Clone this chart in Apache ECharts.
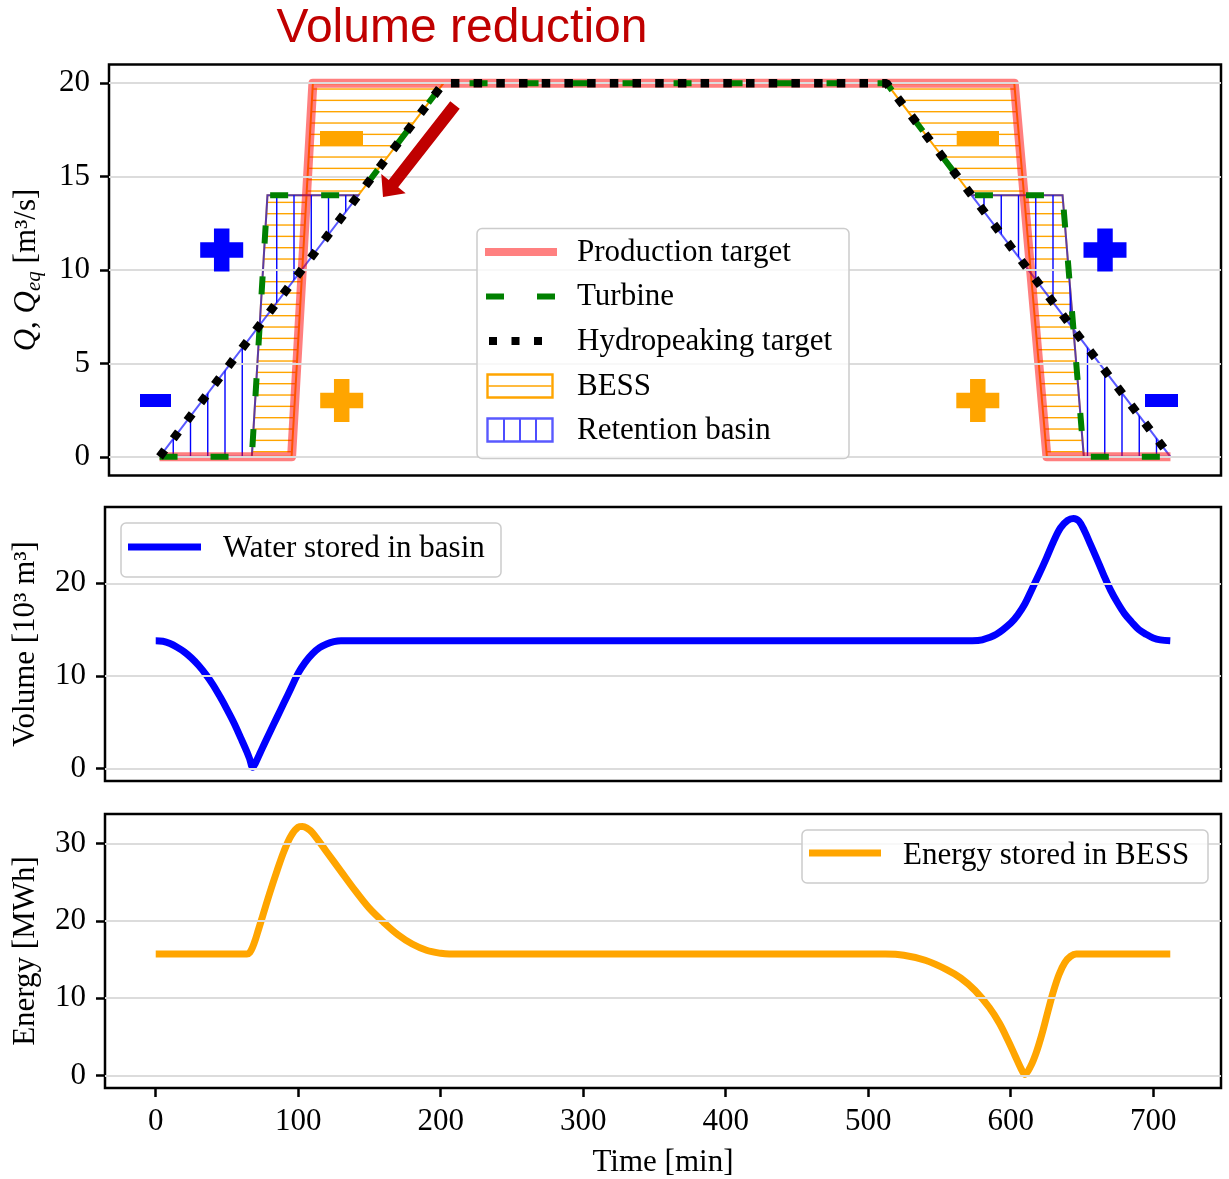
<!DOCTYPE html>
<html>
<head>
<meta charset="utf-8">
<script src="https://cdn.jsdelivr.net/npm/echarts@6/dist/echarts.min.js"></script>
<style>
html, body { margin: 0; padding: 0; background: #fff; }
#main { width: 1229px; height: 1179px; }
</style>
</head>
<body>
<div id="main"></div>
<script>
// ---- data ----
const tTicks = [0, 100, 200, 300, 400, 500, 600, 700];
const qTicks = [0, 5, 10, 15, 20];
const vTicks = [0, 10, 20];
const eTicks = [0, 10, 20, 30];

// top panel: discharge Q [m3/s] vs time [min]
const prodT = [0, 93, 108, 602, 625, 712];
const prodQ = [0, 0, 20, 20, 0, 0];
const turbT = [0, 65, 76, 140, 200, 512, 572, 636, 651, 712];
const turbQ = [0, 0, 14, 14, 20, 20, 14, 14, 0, 0];
const hydroT = [0, 200, 512, 712];
const hydroQ = [0, 20, 20, 0];

// filled regions (corners of the curves above)
const bessLeft = [[65, 0], [93, 0], [108, 20], [200, 20], [140, 14], [76, 14]];
const bessRight = [[512, 20], [602, 20], [625, 0], [651, 0], [636, 14], [572, 14]];
const basinLeft = [[0, 0], [140, 14], [76, 14], [65, 0]];
const basinRight = [[572, 14], [712, 0], [651, 0], [636, 14]];

// middle panel: water stored in basin [10^3 m3]
const volT = [0,5,10,15,20,25,30,35,40,45,50,55,60,64,66,68,70,73,76,80,85,90,95,100,105,110,115,120,125,130,140,
  573,580,590,600,605,610,615,620,625,630,635,640,644,648,652,656,660,665,670,675,680,685,690,695,700,705,712];
const volV = [13.8,13.75,13.5,13.1,12.6,11.95,11.15,10.2,9.1,7.8,6.4,4.9,3.2,1.8,1.0,0.15,0.6,1.6,2.6,3.9,5.5,7.1,8.7,10.3,11.5,12.4,13.05,13.45,13.7,13.8,13.8,
  13.8,13.9,14.5,15.7,16.6,17.8,19.4,21.0,22.7,24.5,26.0,26.8,27.0,26.7,25.6,24.2,22.8,21.0,19.3,17.9,16.7,15.8,15.0,14.5,14.1,13.9,13.8];

// bottom panel: energy stored in BESS [MWh]
const enT = [0,64,66,68,70,72,75,80,85,90,95,100,103,106,110,120,130,140,150,160,170,180,190,200,206,
  512,525,540,555,565,575,585,592,598,603,607,610,614,618,622,626,630,634,638,642,646,712];
const enE = [15.7,15.7,15.9,16.6,17.6,18.8,20.6,23.6,26.4,29.0,31.0,32.1,32.2,32.0,31.4,28.9,26.4,23.9,21.6,19.8,18.2,17.0,16.2,15.8,15.7,
  15.7,15.55,14.9,13.7,12.6,11.0,8.8,6.8,4.6,2.6,1.0,0.15,1.2,3.0,5.4,8.2,10.9,13.1,14.6,15.4,15.7,15.7];

const SERIF = '"Liberation Serif", "Times New Roman", serif';
const SANS = '"Liberation Sans", Arial, sans-serif';
const ORANGE = '#ffa500';
const BLUE = '#0000ff';
const DARKRED = '#c00000';
const BASIN_EDGE = 'rgba(0,0,255,0.65)';

function zip(a, b) { return a.map((v, i) => [v, b[i]]); }

// hatch patterns
function hatchH() {
  const c = document.createElement('canvas');
  c.width = 8; c.height = 34;
  const g = c.getContext('2d');
  g.strokeStyle = ORANGE; g.lineWidth = 1.4;
  [9.7, 21.03, 32.37].forEach(y => { g.beginPath(); g.moveTo(0, y); g.lineTo(8, y); g.stroke(); });
  return c;
}
function hatchV() {
  const c = document.createElement('canvas');
  c.width = 69; c.height = 8;
  const g = c.getContext('2d');
  g.strokeStyle = BLUE; g.lineWidth = 1.4;
  [0.75, 18, 35.25, 52.5].forEach(x => { g.beginPath(); g.moveTo(x, 0); g.lineTo(x, 8); g.stroke(); });
  return c;
}
const patH = { image: hatchH(), repeat: 'repeat' };
const patV = { image: hatchV(), repeat: 'repeat' };

function polySeries(pts, fill, stroke, z) {
  return {
    type: 'custom', xAxisIndex: 0, yAxisIndex: 0, z: z, silent: true,
    data: pts, encode: { x: 0, y: 1 },
    renderItem: function (params, api) {
      if (params.dataIndex !== 0) return null;
      return {
        type: 'polygon',
        shape: { points: pts.map(p => api.coord(p)) },
        style: { fill: fill, stroke: stroke, lineWidth: 2 }
      };
    }
  };
}

function gridSeries(xi, yi, ticks) {
  return {
    type: 'line', xAxisIndex: xi, yAxisIndex: yi, z: 0, silent: true,
    data: [[0, ticks[0]]], symbol: 'none', lineStyle: { opacity: 0 },
    markLine: {
      silent: true, symbol: ['none', 'none'], label: { show: false },
      lineStyle: { color: '#dcdcdc', width: 1.8, type: 'solid' },
      emphasis: { disabled: true },
      data: ticks.map(v => ({ yAxis: v }))
    }
  };
}

const labelFont = { fontFamily: SERIF, fontSize: 31, color: '#000' };
const tickStyle = { color: '#000', width: 2.5 };

function xAxisDef(idx, showLabels) {
  const ax = {
    type: 'value', gridIndex: idx, min: -35.6, max: 747.6,
    axisLine: { show: false, onZero: false },
    splitLine: { show: false },
    axisTick: { show: false },
    axisLabel: { show: false }
  };
  if (showLabels) {
    ax.axisTick = { show: true, customValues: tTicks, length: 9, lineStyle: tickStyle };
    ax.axisLabel = Object.assign({ show: true, customValues: tTicks, margin: 18 }, labelFont);
    ax.name = 'Time [min]';
    ax.nameLocation = 'middle';
    ax.nameGap = 59;
    ax.nameTextStyle = labelFont;
  }
  return ax;
}
function yAxisDef(idx, min, max, ticks, name, rich) {
  return {
    type: 'value', gridIndex: idx, min: min, max: max,
    axisLine: { show: false, onZero: false },
    splitLine: { show: false },
    axisTick: { show: true, customValues: ticks, length: 9, lineStyle: tickStyle },
    axisLabel: Object.assign({ customValues: ticks, margin: 19 }, labelFont),
    name: name, nameLocation: 'middle', nameGap: 64,
    nameTextStyle: Object.assign({ rich: rich || {} }, labelFont)
  };
}

const qRich = {
  i: { fontFamily: SERIF, fontSize: 31, fontStyle: 'italic', verticalAlign: 'top', lineHeight: 34 },
  n: { fontFamily: SERIF, fontSize: 31, verticalAlign: 'top', lineHeight: 34 },
  s: { fontFamily: SERIF, fontSize: 21, fontStyle: 'italic', verticalAlign: 'bottom', lineHeight: 21, padding: [16, 0, 0, 0] }
};

const gridBox = { show: true, borderColor: '#000', borderWidth: 2.5, backgroundColor: 'rgba(0,0,0,0)' };

const option = {
  animation: false,
  backgroundColor: '#fff',
  grid: [
    Object.assign({ left: 105, top: 64.5, width: 1116, height: 411 }, gridBox),
    Object.assign({ left: 105, top: 507, width: 1116, height: 274 }, gridBox),
    Object.assign({ left: 105, top: 814, width: 1116, height: 274 }, gridBox)
  ],
  xAxis: [xAxisDef(0, false), xAxisDef(1, false), xAxisDef(2, true)],
  yAxis: [
    yAxisDef(0, -1, 21, qTicks, '{i|Q}{n|, }{i|Q}{s|eq}{n| [m³/s]}', qRich),
    yAxisDef(1, -1.345, 28.245, vTicks, 'Volume [10³ m³]'),
    yAxisDef(2, -1.61, 33.81, eTicks, 'Energy [MWh]')
  ],
  series: [
    gridSeries(0, 0, qTicks),
    gridSeries(1, 1, vTicks),
    gridSeries(2, 2, eTicks),
    polySeries(bessLeft, patH, ORANGE, 2),
    polySeries(bessRight, patH, ORANGE, 2),
    polySeries(basinLeft, patV, BASIN_EDGE, 3),
    polySeries(basinRight, patV, BASIN_EDGE, 3),
    {
      name: 'Production target', type: 'line', xAxisIndex: 0, yAxisIndex: 0, z: 4,
      data: zip(prodT, prodQ), symbol: 'none', clip: false, silent: true,
      lineStyle: { color: 'rgba(255,0,0,0.5)', width: 9, join: 'round' }
    },
    {
      name: 'Turbine', type: 'line', xAxisIndex: 0, yAxisIndex: 0, z: 5,
      data: zip(turbT, turbQ), symbol: 'none', clip: false, silent: true,
      lineStyle: { color: '#008000', width: 6, type: [18, 33], cap: 'butt' }
    },
    {
      name: 'Hydropeaking target', type: 'line', xAxisIndex: 0, yAxisIndex: 0, z: 6,
      data: zip(hydroT, hydroQ), symbol: 'none', clip: false, silent: true,
      lineStyle: { color: '#000', width: 8.5, type: [8.5, 14.2], cap: 'butt' }
    },
    {
      name: 'Water stored in basin', type: 'line', xAxisIndex: 1, yAxisIndex: 1, z: 4,
      data: zip(volT, volV), symbol: 'none', smooth: 0.35, silent: true,
      lineStyle: { color: BLUE, width: 7, join: 'round' }
    },
    {
      name: 'Energy stored in BESS', type: 'line', xAxisIndex: 2, yAxisIndex: 2, z: 4,
      data: zip(enT, enE), symbol: 'none', smooth: 0.35, silent: true,
      lineStyle: { color: ORANGE, width: 7, join: 'round' }
    }
  ]
};

// ---- annotations ----
const g = [];
function rect(x1, y1, x2, y2, fill) {
  g.push({ type: 'rect', z: 20, silent: true, shape: { x: x1, y: y1, width: x2 - x1, height: y2 - y1 }, style: { fill: fill } });
}
function plus(cx, cy, fill) {
  rect(cx - 21.5, cy - 7.75, cx + 21.5, cy + 7.75, fill);
  rect(cx - 7.75, cy - 21.5, cx + 7.75, cy + 21.5, fill);
}
plus(221.7, 250, BLUE);
plus(1105, 250, BLUE);
plus(341.7, 400.5, ORANGE);
plus(977.8, 400.5, ORANGE);
rect(140, 394, 171, 407, BLUE);
rect(1145, 394, 1178, 407, BLUE);
rect(320, 131, 363, 146, ORANGE);
rect(956.7, 131, 999, 146, ORANGE);

// title
g.push({ type: 'text', z: 20, silent: true, x: 462, y: 29,
  style: { text: 'Volume reduction', fill: DARKRED, font: '48px ' + SANS, textAlign: 'center', textVerticalAlign: 'middle' } });

// arrow
(function () {
  const tail = [455, 105], tip = [383, 197];
  const dx = tip[0] - tail[0], dy = tip[1] - tail[1];
  const L = Math.hypot(dx, dy), d = [dx / L, dy / L], n = [d[1] * -1, d[0]];
  const hw = 6, hh = 15.5, hl = 17;
  const b = [tip[0] - hl * d[0], tip[1] - hl * d[1]];
  const p = (o, k) => [o[0] + k * n[0], o[1] + k * n[1]];
  g.push({ type: 'polygon', z: 20, silent: true,
    shape: { points: [p(tail, hw), p(b, hw), p(b, hh), tip, p(b, -hh), p(b, -hw), p(tail, -hw)] },
    style: { fill: DARKRED } });
})();

// legend boxes
function legendBox(x, y, w, h) {
  g.push({ type: 'rect', z: 30, silent: true, shape: { x: x, y: y, width: w, height: h, r: 5 },
    style: { fill: 'rgba(255,255,255,0.8)', stroke: '#cccccc', lineWidth: 1.5 } });
}
function legendText(x, y, s) {
  g.push({ type: 'text', z: 31, silent: true, x: x, y: y,
    style: { text: s, fill: '#000', font: '31px ' + SERIF, textVerticalAlign: 'middle' } });
}
function legendLine(x1, x2, y, color, width, dash) {
  g.push({ type: 'line', z: 31, silent: true, shape: { x1: x1, y1: y, x2: x2, y2: y },
    style: { stroke: color, lineWidth: width, lineDash: dash || null, lineCap: 'butt' } });
}

legendBox(477, 228.5, 372, 230);
legendLine(485, 557, 252, '#ff8080', 8);
legendText(577, 253, 'Production target');
legendLine(486, 556, 296.5, '#008000', 6, [18, 33]);
legendText(577, 297, 'Turbine');
legendLine(489, 543, 341, '#000', 8, [8, 14.5]);
legendText(577, 341.5, 'Hydropeaking target');
g.push({ type: 'rect', z: 31, silent: true, shape: { x: 487.5, y: 374.5, width: 65, height: 23 },
  style: { fill: '#fff', stroke: ORANGE, lineWidth: 2.4 } });
legendLine(488.5, 551.5, 386, ORANGE, 1.4);
legendText(577, 387, 'BESS');
g.push({ type: 'rect', z: 31, silent: true, shape: { x: 487.5, y: 418.5, width: 65, height: 23 },
  style: { fill: '#fff', stroke: BASIN_EDGE, lineWidth: 2.4 } });
[504, 520, 536].forEach(x => g.push({ type: 'line', z: 31, silent: true,
  shape: { x1: x, y1: 419.5, x2: x, y2: 440.5 }, style: { stroke: BLUE, lineWidth: 1.4 } }));
legendText(577, 431, 'Retention basin');

legendBox(121, 523, 380, 54);
legendLine(128, 201, 547, BLUE, 7);
legendText(223, 549, 'Water stored in basin');

legendBox(802, 830, 406, 53);
legendLine(809, 881, 853, ORANGE, 7);
legendText(903, 856, 'Energy stored in BESS');

option.graphic = g;

const chart = echarts.init(document.getElementById('main'), null, { renderer: 'canvas' });
chart.setOption(option);
</script>
</body>
</html>
